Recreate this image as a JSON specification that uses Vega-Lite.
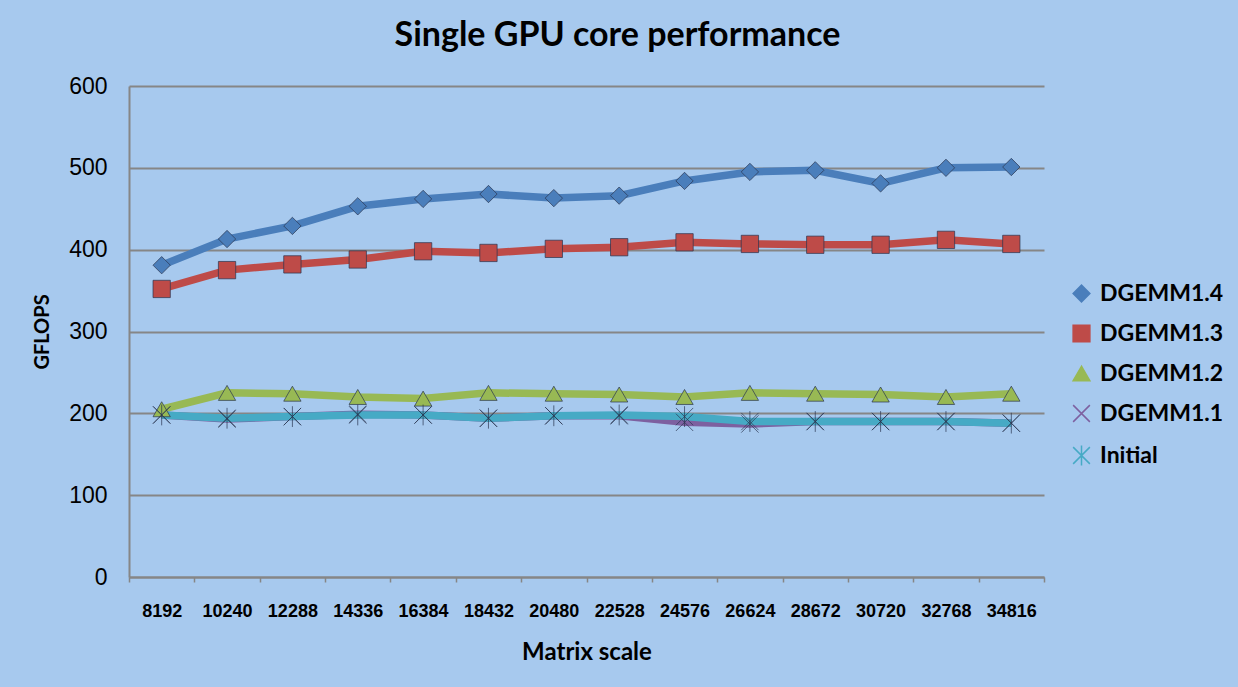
{
  "$schema": "https://vega.github.io/schema/vega-lite/v6.json",
  "width": 915,
  "height": 491,
  "autosize": {"type": "none"},
  "padding": {"left": 129, "top": 86, "right": 194, "bottom": 110},
  "background": "#A7C9EE",
  "config": {"view": {"stroke": null}, "font": "Lato"},
  "title": {
    "text": "Single GPU core performance",
    "font": "Lato",
    "fontSize": 34,
    "fontWeight": "bold",
    "color": "#000000",
    "anchor": "middle",
    "dx": 31,
    "offset": 22
  },
  "data": {
    "values": [
      {"scale": 8192, "series": "DGEMM1.4", "gflops": 381},
      {"scale": 10240, "series": "DGEMM1.4", "gflops": 413},
      {"scale": 12288, "series": "DGEMM1.4", "gflops": 429},
      {"scale": 14336, "series": "DGEMM1.4", "gflops": 453},
      {"scale": 16384, "series": "DGEMM1.4", "gflops": 462},
      {"scale": 18432, "series": "DGEMM1.4", "gflops": 468},
      {"scale": 20480, "series": "DGEMM1.4", "gflops": 463},
      {"scale": 22528, "series": "DGEMM1.4", "gflops": 466},
      {"scale": 24576, "series": "DGEMM1.4", "gflops": 484},
      {"scale": 26624, "series": "DGEMM1.4", "gflops": 495},
      {"scale": 28672, "series": "DGEMM1.4", "gflops": 497},
      {"scale": 30720, "series": "DGEMM1.4", "gflops": 481},
      {"scale": 32768, "series": "DGEMM1.4", "gflops": 500},
      {"scale": 34816, "series": "DGEMM1.4", "gflops": 501},
      {"scale": 8192, "series": "DGEMM1.3", "gflops": 352},
      {"scale": 10240, "series": "DGEMM1.3", "gflops": 375},
      {"scale": 12288, "series": "DGEMM1.3", "gflops": 382},
      {"scale": 14336, "series": "DGEMM1.3", "gflops": 388},
      {"scale": 16384, "series": "DGEMM1.3", "gflops": 398},
      {"scale": 18432, "series": "DGEMM1.3", "gflops": 396},
      {"scale": 20480, "series": "DGEMM1.3", "gflops": 401},
      {"scale": 22528, "series": "DGEMM1.3", "gflops": 403},
      {"scale": 24576, "series": "DGEMM1.3", "gflops": 409},
      {"scale": 26624, "series": "DGEMM1.3", "gflops": 407},
      {"scale": 28672, "series": "DGEMM1.3", "gflops": 406},
      {"scale": 30720, "series": "DGEMM1.3", "gflops": 406},
      {"scale": 32768, "series": "DGEMM1.3", "gflops": 412},
      {"scale": 34816, "series": "DGEMM1.3", "gflops": 407},
      {"scale": 8192, "series": "DGEMM1.2", "gflops": 205},
      {"scale": 10240, "series": "DGEMM1.2", "gflops": 225},
      {"scale": 12288, "series": "DGEMM1.2", "gflops": 224},
      {"scale": 14336, "series": "DGEMM1.2", "gflops": 220},
      {"scale": 16384, "series": "DGEMM1.2", "gflops": 218},
      {"scale": 18432, "series": "DGEMM1.2", "gflops": 225},
      {"scale": 20480, "series": "DGEMM1.2", "gflops": 224},
      {"scale": 22528, "series": "DGEMM1.2", "gflops": 223},
      {"scale": 24576, "series": "DGEMM1.2", "gflops": 220},
      {"scale": 26624, "series": "DGEMM1.2", "gflops": 225},
      {"scale": 28672, "series": "DGEMM1.2", "gflops": 224},
      {"scale": 30720, "series": "DGEMM1.2", "gflops": 223},
      {"scale": 32768, "series": "DGEMM1.2", "gflops": 220},
      {"scale": 34816, "series": "DGEMM1.2", "gflops": 224},
      {"scale": 8192, "series": "DGEMM1.1", "gflops": 198},
      {"scale": 10240, "series": "DGEMM1.1", "gflops": 193},
      {"scale": 12288, "series": "DGEMM1.1", "gflops": 196},
      {"scale": 14336, "series": "DGEMM1.1", "gflops": 199},
      {"scale": 16384, "series": "DGEMM1.1", "gflops": 198},
      {"scale": 18432, "series": "DGEMM1.1", "gflops": 194},
      {"scale": 20480, "series": "DGEMM1.1", "gflops": 197},
      {"scale": 22528, "series": "DGEMM1.1", "gflops": 197},
      {"scale": 24576, "series": "DGEMM1.1", "gflops": 189},
      {"scale": 26624, "series": "DGEMM1.1", "gflops": 187},
      {"scale": 28672, "series": "DGEMM1.1", "gflops": 190},
      {"scale": 30720, "series": "DGEMM1.1", "gflops": 190},
      {"scale": 32768, "series": "DGEMM1.1", "gflops": 190},
      {"scale": 34816, "series": "DGEMM1.1", "gflops": 188},
      {"scale": 8192, "series": "Initial", "gflops": 198},
      {"scale": 10240, "series": "Initial", "gflops": 194},
      {"scale": 12288, "series": "Initial", "gflops": 196},
      {"scale": 14336, "series": "Initial", "gflops": 198},
      {"scale": 16384, "series": "Initial", "gflops": 198},
      {"scale": 18432, "series": "Initial", "gflops": 194},
      {"scale": 20480, "series": "Initial", "gflops": 197},
      {"scale": 22528, "series": "Initial", "gflops": 198},
      {"scale": 24576, "series": "Initial", "gflops": 196},
      {"scale": 26624, "series": "Initial", "gflops": 190},
      {"scale": 28672, "series": "Initial", "gflops": 190},
      {"scale": 30720, "series": "Initial", "gflops": 190},
      {"scale": 32768, "series": "Initial", "gflops": 190},
      {"scale": 34816, "series": "Initial", "gflops": 188}
    ]
  },
  "encoding": {
    "x": {
      "field": "scale",
      "type": "ordinal",
      "bandPosition": 0.5,
      "scale": {"type": "band", "paddingInner": 0, "paddingOuter": 0},
      "axis": {
        "title": "Matrix scale",
        "titleFont": "Lato",
        "titleFontSize": 24,
        "titleFontWeight": "bold",
        "titleColor": "#000000",
        "titlePadding": 20,
        "labelFont": "Liberation Sans",
        "labelFontSize": 18,
        "labelFontWeight": "bold",
        "labelColor": "#000000",
        "labelAngle": 0,
        "labelPadding": 20,
        "tickBand": "extent",
        "ticks": true,
        "tickSize": 5,
        "tickColor": "#868686",
        "tickWidth": 1.5,
        "domainColor": "#868686",
        "domainWidth": 2,
        "grid": false
      }
    },
    "y": {
      "field": "gflops",
      "type": "quantitative",
      "scale": {"domain": [0, 600], "nice": false},
      "axis": {
        "title": "GFLOPS",
        "titleFont": "Lato",
        "titleFontSize": 20,
        "titleFontWeight": "bold",
        "titleColor": "#000000",
        "titlePadding": 16,
        "values": [0, 100, 200, 300, 400, 500, 600],
        "labelFont": "Liberation Sans",
        "labelFontSize": 23,
        "labelColor": "#000000",
        "labelPadding": 22,
        "ticks": false,
        "grid": true,
        "gridColor": "#868686",
        "gridWidth": 2,
        "gridOpacity": 1,
        "domainColor": "#868686",
        "domainWidth": 2
      }
    },
    "color": {
      "field": "series",
      "type": "nominal",
      "scale": {
        "domain": ["DGEMM1.4", "DGEMM1.3", "DGEMM1.2", "DGEMM1.1", "Initial"],
        "range": ["#4A7EBB", "#BE4B48", "#98B954", "#7D60A0", "#46AAC5"]
      },
      "legend": {
        "title": null,
        "orient": "none",
        "legendX": 941,
        "legendY": 196,
        "labelFont": "Lato",
        "labelFontSize": 23,
        "labelFontWeight": "bold",
        "labelColor": "#000000",
        "symbolSize": 280,
        "rowPadding": 16,
        "labelOffset": 7
      }
    }
  },
  "layer": [
    {"mark": {"type": "line", "strokeWidth": 7.5}},
    {
      "mark": {"type": "point", "filled": true, "size": 300, "stroke": "#2a3550", "strokeWidth": 1, "strokeOpacity": 0.7, "opacity": 1},
      "encoding": {
        "shape": {
          "field": "series",
          "type": "nominal",
          "scale": {
            "domain": ["DGEMM1.4", "DGEMM1.3", "DGEMM1.2", "DGEMM1.1", "Initial"],
            "range": ["diamond", "square", "triangle-up", "M-1,-1L1,1M-1,1L1,-1", "M-1,-1L1,1M-1,1L1,-1M0,-1.2L0,1.2"]
          },
          "legend": {
            "title": null,
            "orient": "none",
            "legendX": 941,
            "legendY": 196,
            "labelFont": "Lato",
            "labelFontSize": 23,
            "labelFontWeight": "bold",
            "labelColor": "#000000",
            "symbolSize": 280,
            "rowPadding": 16,
            "labelOffset": 7
          }
        }
      }
    }
  ]
}
